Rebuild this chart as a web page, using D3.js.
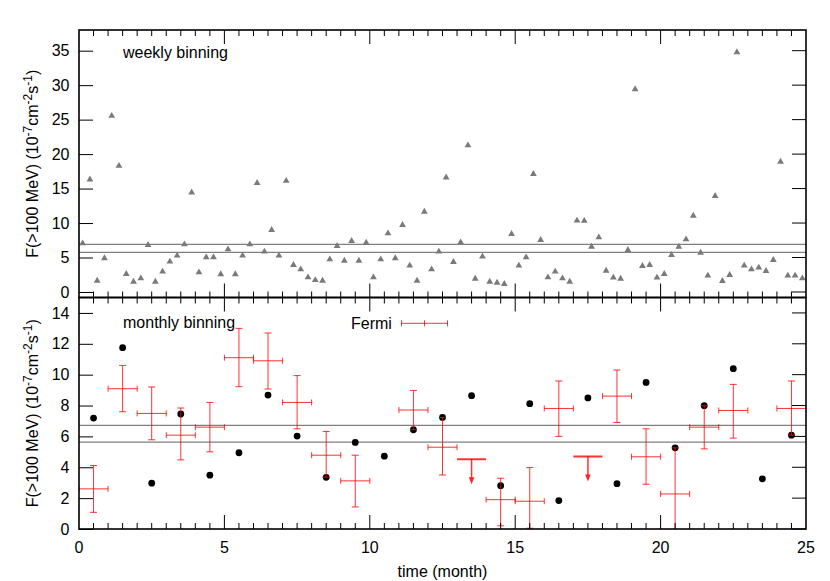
<!DOCTYPE html>
<html><head><meta charset="utf-8">
<script src="https://cdn.jsdelivr.net/npm/d3@7"></script>
<style>body{margin:0;background:#fff} text{font-family:"Liberation Sans",Arial,sans-serif;fill:#000}</style>
</head><body><svg id="c" width="830" height="581"></svg>
<script>
// ---------- data ----------
const weeklyTime = [0.125,0.375,0.625,0.875,1.125,1.375,1.625,1.875,2.125,2.375,2.625,2.875,3.125,3.375,3.625,3.875,4.125,4.375,4.625,4.875,
5.125,5.375,5.625,5.875,6.125,6.375,6.625,6.875,7.125,7.375,7.625,7.875,8.125,8.375,8.625,8.875,9.125,9.375,9.625,9.875,
10.125,10.375,10.625,10.875,11.125,11.375,11.625,11.875,12.125,12.375,12.625,12.875,13.125,13.375,13.625,13.875,14.125,14.375,14.625,14.875,
15.125,15.375,15.625,15.875,16.125,16.375,16.625,16.875,17.125,17.375,17.625,17.875,18.125,18.375,18.625,18.875,19.125,19.375,19.625,19.875,
20.125,20.375,20.625,20.875,21.125,21.375,21.625,21.875,22.125,22.375,22.625,22.875,23.125,23.375,23.625,23.875,24.125,24.375,24.625,24.875];
const weeklyFlux = [7.06,16.32,1.64,4.89,25.54,18.3,2.62,1.49,1.98,6.82,1.49,2.95,4.4,5.27,6.91,14.43,2.85,5.03,5.03,2.57,
6.19,2.57,5.27,6.91,15.82,5.85,8.99,5.27,16.12,3.92,3.29,2.13,1.73,1.64,4.74,6.67,4.54,7.4,4.54,7.15,
2.13,4.74,8.51,4.89,9.72,3.82,1.64,11.65,3.29,5.85,16.61,4.35,7.2,21.27,1.93,5.13,1.49,1.35,1.16,8.41,
3.82,5.03,17.11,7.55,2.13,2.95,1.98,1.49,10.36,10.32,6.57,7.93,3.09,2.08,1.93,6.1,29.41,3.77,3.92,2.08,
2.62,5.36,6.57,7.64,11.06,5.7,2.37,13.93,1.59,2.47,34.77,3.82,3.29,3.53,3.04,4.64,18.89,2.37,2.37,1.98];

const monthlyTime = [0.5,1.5,2.5,3.5,4.5,5.5,6.5,7.5,8.5,9.5,10.5,11.5,12.5,13.5,14.5,15.5,16.5,17.5,18.5,19.5,20.5,21.5,22.5,23.5,24.5];
const monthlyFlux = [7.19,11.75,2.97,7.45,3.49,4.94,8.68,6.02,3.35,5.61,4.72,6.43,7.23,8.64,2.81,8.12,1.84,8.49,2.94,9.5,5.26,7.99,10.39,3.25,6.08];

const fermiTime = [0.5,1.5,2.5,3.5,4.5,5.5,6.5,7.5,8.5,9.5,11.5,12.5,14.5,15.5,16.5,18.5,19.5,20.5,21.5,22.5,24.5];
const fermiFlux = [2.6,9.09,7.49,6.08,6.6,11.1,10.9,8.2,4.78,3.12,7.71,5.3,1.9,1.8,7.81,8.61,4.68,2.27,6.6,7.68,7.81];
const fermiLow  = [1.08,7.6,5.78,4.48,5.0,9.22,9.07,6.49,3.36,1.43,6.43,3.5,0.21,0.05,6.0,6.9,2.9,-0.7,5.19,5.89,6.08];
const fermiHigh = [4.11,10.6,9.2,7.84,8.2,13.0,12.7,9.94,6.32,4.78,8.98,7.23,3.29,3.98,9.59,10.3,6.49,5.26,7.99,9.37,9.59];
const fermiHalfBin = 0.5;

const ulTime = [13.5,17.5];
const ulFlux = [4.52,4.7];

const refTop = [6.9,5.75];
const refBottom = [6.72,5.63];

const topTicks = [0,5,10,15,20,25,30,35];
const bottomTicks = [0,2,4,6,8,10,12,14];
const xTicks = [0,5,10,15,20,25];

// ---------- layout ----------
const L=79, R=806, T1=30, B1=297.5, T2=297.5, B2=529;
const svg = d3.select("#c");
const x = d3.scaleLinear().domain([0,25]).range([L,R]);
const y1 = d3.scaleLinear().domain([-0.8,38]).range([B1,T1]);
const y2 = d3.scaleLinear().domain([0,15]).range([B2,T2]);

const defs = svg.append("defs");
defs.append("clipPath").attr("id","clip1").append("rect").attr("x",L).attr("y",T1).attr("width",R-L).attr("height",B1-T1);
defs.append("clipPath").attr("id","clip2").append("rect").attr("x",L).attr("y",T2).attr("width",R-L).attr("height",B2-T2);

function panelAxes(yScale, top, bottom, yt){
  const g = svg.append("g");
  const minor = d3.range(0.5, 25, 0.5);
  minor.forEach(v=>{
    const major = Math.abs(v%5)<1e-9;
    const len = major?14:6;
    g.append("line").attr("x1",x(v)).attr("x2",x(v)).attr("y1",bottom).attr("y2",bottom-len).attr("stroke","#000").attr("stroke-width",1);
    g.append("line").attr("x1",x(v)).attr("x2",x(v)).attr("y1",top).attr("y2",top+len).attr("stroke","#000").attr("stroke-width",1);
  });
  const ax = d3.axisLeft(yScale).tickValues(yt).tickSize(-14).tickPadding(9.5).tickFormat(d3.format("d"));
  const ag = g.append("g").attr("transform",`translate(${L},0)`).call(ax);
  ag.select(".domain").remove();
  ag.selectAll("line").attr("stroke","#000");
  ag.selectAll("text").style("font-size","16px").style("font-family","'Liberation Sans',Arial,sans-serif");
  yt.forEach(v=>{
    g.append("line").attr("x1",R).attr("x2",R-14).attr("y1",yScale(v)).attr("y2",yScale(v)).attr("stroke","#000");
  });
  return g;
}

// reference lines
const gRef1 = svg.append("g").attr("clip-path","url(#clip1)");
gRef1.selectAll("line").data(refTop).join("line")
  .attr("x1",L).attr("x2",R).attr("y1",d=>y1(d)).attr("y2",d=>y1(d))
  .attr("stroke","#808080").attr("stroke-width",1.3);
const gRef2 = svg.append("g").attr("clip-path","url(#clip2)");
gRef2.selectAll("line").data(refBottom).join("line")
  .attr("x1",L).attr("x2",R).attr("y1",d=>y2(d)).attr("y2",d=>y2(d))
  .attr("stroke","#808080").attr("stroke-width",1.3);

// weekly triangles
const tri = d3.symbol().type(d3.symbolTriangle).size(20);
svg.append("g").attr("clip-path","url(#clip1)")
  .selectAll("path").data(weeklyTime.map((t,i)=>[t,weeklyFlux[i]])).join("path")
  .attr("d",tri).attr("transform",d=>`translate(${x(d[0])},${y1(d[1])})`)
  .attr("fill","#7a7a7a");

// monthly dots
svg.append("g").attr("clip-path","url(#clip2)")
  .selectAll("circle").data(monthlyTime.map((t,i)=>[t,monthlyFlux[i]])).join("circle")
  .attr("cx",d=>x(d[0])).attr("cy",d=>y2(d[1])).attr("r",3.4).attr("fill","#000");

// Fermi crosses
const red = "#ff0000";
const gF = svg.append("g").attr("clip-path","url(#clip2)").attr("stroke",red).attr("stroke-opacity",0.8).attr("stroke-width",1).attr("fill","none");
fermiTime.forEach((t,i)=>{
  const cx = x(t), cy = y2(fermiFlux[i]), yl = y2(fermiLow[i]), yh = y2(fermiHigh[i]);
  const xl = x(t-fermiHalfBin), xr = x(t+fermiHalfBin);
  gF.append("line").attr("x1",cx).attr("x2",cx).attr("y1",yl).attr("y2",yh);
  gF.append("line").attr("x1",cx-3.5).attr("x2",cx+3.5).attr("y1",yl).attr("y2",yl);
  gF.append("line").attr("x1",cx-3.5).attr("x2",cx+3.5).attr("y1",yh).attr("y2",yh);
  gF.append("line").attr("x1",xl).attr("x2",xr).attr("y1",cy).attr("y2",cy);
  gF.append("line").attr("x1",xl).attr("x2",xl).attr("y1",cy-3).attr("y2",cy+3);
  gF.append("line").attr("x1",xr).attr("x2",xr).attr("y1",cy-3).attr("y2",cy+3);
});
// upper limits
ulTime.forEach((t,i)=>{
  const cx = x(t), cy = y2(ulFlux[i]);
  gF.append("line").attr("x1",x(t-fermiHalfBin)).attr("x2",x(t+fermiHalfBin)).attr("y1",cy).attr("y2",cy).attr("stroke-width",2);
  gF.append("line").attr("x1",cx).attr("x2",cx).attr("y1",cy).attr("y2",cy+19).attr("stroke-width",1.5);
  gF.append("path").attr("d",`M${cx-2.8},${cy+18}L${cx+2.8},${cy+18}L${cx},${cy+25}Z`).attr("fill",red).attr("fill-opacity",0.85).attr("stroke","none");
});

// axes & frames
panelAxes(y1, T1, B1, topTicks);
panelAxes(y2, T2, B2, bottomTicks);
svg.append("rect").attr("x",L).attr("y",T1).attr("width",R-L).attr("height",B1-T1).attr("fill","none").attr("stroke","#000").attr("stroke-width",1.6);
svg.append("rect").attr("x",L).attr("y",T2).attr("width",R-L).attr("height",B2-T2).attr("fill","none").attr("stroke","#000").attr("stroke-width",1.6);

// x labels
svg.append("g").selectAll("text").data(xTicks).join("text")
  .attr("x",d=>x(d)).attr("y",553).attr("text-anchor","middle").style("font-size","16px").text(d=>d);
svg.append("text").attr("x",(L+R)/2).attr("y",577).attr("text-anchor","middle").style("font-size","16px").text("time (month)");

// y labels
function yLabel(cy){
  const t = svg.append("text").attr("transform",`translate(38,${cy}) rotate(-90)`).attr("text-anchor","middle").style("font-size","16px");
  t.append("tspan").text("F(>100 MeV) (10");
  t.append("tspan").attr("dy",-6).style("font-size","12px").text("-7");
  t.append("tspan").attr("dy",6).text("cm");
  t.append("tspan").attr("dy",-6).style("font-size","12px").text("-2");
  t.append("tspan").attr("dy",6).text("s");
  t.append("tspan").attr("dy",-6).style("font-size","12px").text("-1");
  t.append("tspan").attr("dy",6).text(")");
}
yLabel((T1+B1)/2);
yLabel((T2+B2)/2);

// panel titles
svg.append("text").attr("x",123).attr("y",58).style("font-size","16px").text("weekly binning");
svg.append("text").attr("x",123).attr("y",327.5).style("font-size","16px").text("monthly binning");

// legend
svg.append("text").attr("x",351).attr("y",329).style("font-size","16px").text("Fermi");
const lg = svg.append("g").attr("stroke",red).attr("stroke-opacity",0.8).attr("stroke-width",1);
const ly = 323.3;
lg.append("line").attr("x1",401.5).attr("x2",447.5).attr("y1",ly).attr("y2",ly);
[401.5,424.5,447.5].forEach(px=>lg.append("line").attr("x1",px).attr("x2",px).attr("y1",ly-3).attr("y2",ly+3));
</script></body></html>
